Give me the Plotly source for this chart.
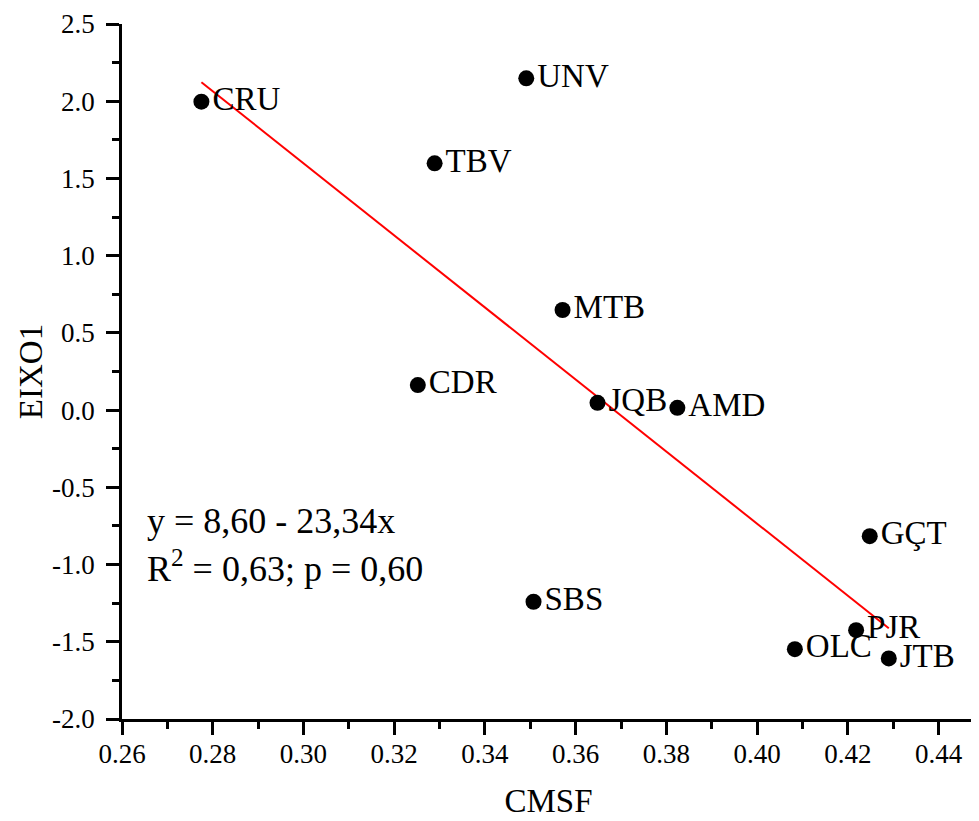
import plotly.graph_objects as go

labels = ["CRU", "UNV", "TBV", "MTB", "CDR", "JQB", "AMD", "SBS", "GÇT", "PJR", "OLC", "JTB"]
cmsf = [0.2775, 0.3491, 0.3289, 0.3571, 0.3252, 0.3648, 0.3824, 0.3507, 0.4248, 0.4218, 0.4083, 0.4290]
eixo1 = [1.997, 2.148, 1.598, 0.648, 0.162, 0.047, 0.015, -1.241, -0.816, -1.425, -1.548, -1.608]

intercept = 8.60
slope = -23.34

x_ticks = [0.26, 0.28, 0.30, 0.32, 0.34, 0.36, 0.38, 0.40, 0.42, 0.44]
y_ticks = [-2.0, -1.5, -1.0, -0.5, 0.0, 0.5, 1.0, 1.5, 2.0, 2.5]

FONT = "Liberation Serif, Times New Roman, serif"

fig = go.Figure()

xl = [min(cmsf), max(cmsf)]
yl = [intercept + slope * v for v in xl]
fig.add_trace(go.Scatter(x=xl, y=yl, mode="lines",
                         line=dict(color="#ff0000", width=2), hoverinfo="skip",
                         showlegend=False))

fig.add_trace(go.Scatter(x=cmsf, y=eixo1, mode="markers+text", text=labels,
                         textposition="middle right",
                         textfont=dict(family=FONT, size=33, color="black"),
                         marker=dict(color="black", size=16),
                         showlegend=False))

fig.add_annotation(x=0.265, y=-0.72, xref="x", yref="y", xanchor="left", yanchor="middle",
                   text="y = 8,60 - 23,34x", showarrow=False,
                   font=dict(family=FONT, size=36, color="black"))
fig.add_annotation(x=0.265, y=-1.01, xref="x", yref="y", xanchor="left", yanchor="middle",
                   text="R<sup>2</sup> = 0,63; p = 0,60", showarrow=False,
                   font=dict(family=FONT, size=36, color="black"))

axis_common = dict(showline=True, linecolor="black", linewidth=2.5,
                   ticks="outside", ticklen=13, tickwidth=2.5, tickcolor="black",
                   showgrid=False, zeroline=False, mirror=False, automargin=False,
                   tickfont=dict(family=FONT, size=27, color="black"))

fig.update_xaxes(range=[0.26, 0.448], tickvals=x_ticks,
                 ticktext=[f"{v:.2f}" for v in x_ticks],
                 minor=dict(ticks="outside", ticklen=7, tickwidth=2.5, tickcolor="black", dtick=0.01, tick0=0.26),
                 title=dict(text="CMSF", font=dict(family=FONT, size=33, color="black"), standoff=21),
                 ticklabelstandoff=-4, **axis_common)
fig.update_yaxes(range=[-2.0, 2.5], tickvals=y_ticks,
                 ticktext=[f"{v:.1f}" for v in y_ticks],
                 minor=dict(ticks="outside", ticklen=7, tickwidth=2.5, tickcolor="black", dtick=0.25, tick0=0),
                 title=dict(text="EIXO1", font=dict(family=FONT, size=33, color="black"), standoff=0),
                 ticklabelstandoff=6, **axis_common)

fig.update_layout(width=971, height=813, plot_bgcolor="white", paper_bgcolor="white",
                  margin=dict(l=114, r=4, t=16, b=102), showlegend=False)

fig.write_html("out.html")
